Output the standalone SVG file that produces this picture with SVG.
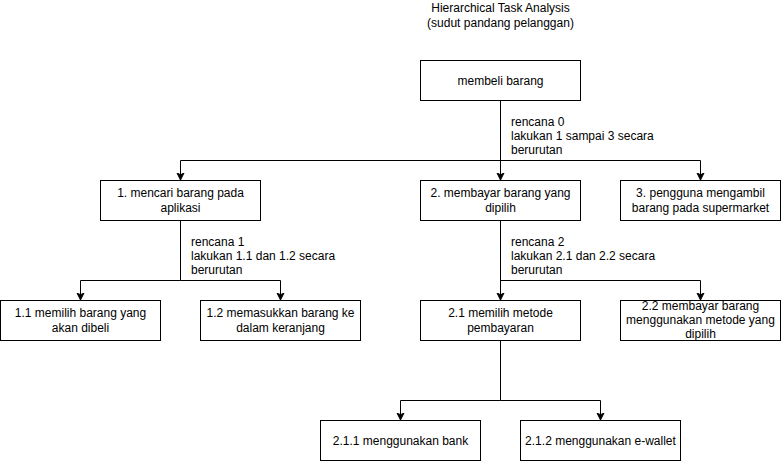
<svg xmlns="http://www.w3.org/2000/svg" width="781" height="461" viewBox="0 0 781 461">
<style>
  .box { fill: #ffffff; stroke: #000000; stroke-width: 1; }
  .t { font-family: "Liberation Sans", Arial, Helvetica, sans-serif; font-size: 12px; fill: #000000; }
  .c { text-anchor: middle; }
  .edge { fill: none; stroke: #000000; stroke-width: 1; marker-end: url(#arr); }
</style>
<defs>
  <marker id="arr" markerWidth="10" markerHeight="10" refX="7" refY="4" orient="auto" markerUnits="userSpaceOnUse">
    <path d="M0,0.5 L7,4 L0,7.5 L1.75,4 Z" fill="#000000" stroke="#000000" stroke-width="1"/>
  </marker>
</defs>
<rect width="781" height="461" fill="#ffffff"/>

<g id="title">
  <text class="t c" x="500.5" y="12">Hierarchical Task Analysis</text>
  <text class="t c" x="500.5" y="26.5">(sudut pandang pelanggan)</text>
</g>

<g id="connectors">
  <path class="edge" d="M500.5,100.5 V180"/>
  <path class="edge" d="M500.5,160.5 H180.5 V180"/>
  <path class="edge" d="M500.5,160.5 H700.5 V180"/>
  <path class="edge" d="M180.5,220.5 V280.5 H80.5 V300"/>
  <path class="edge" d="M180.5,280.5 H280.5 V300"/>
  <path class="edge" d="M500.5,220.5 V300"/>
  <path class="edge" d="M500.5,280.5 H700.5 V300"/>
  <path class="edge" d="M500.5,340.5 V400.5 H400.5 V420"/>
  <path class="edge" d="M500.5,400.5 H600.5 V420"/>
</g>

<g id="label-rencana0">
  <text class="t" x="511" y="126">rencana 0</text>
  <text class="t" x="511" y="140">lakukan 1 sampai 3 secara</text>
  <text class="t" x="511" y="154">berurutan</text>
</g>
<g id="label-rencana1">
  <text class="t" x="191" y="246">rencana 1</text>
  <text class="t" x="191" y="260">lakukan 1.1 dan 1.2 secara</text>
  <text class="t" x="191" y="274">berurutan</text>
</g>
<g id="label-rencana2">
  <text class="t" x="511" y="246">rencana 2</text>
  <text class="t" x="511" y="260">lakukan 2.1 dan 2.2 secara</text>
  <text class="t" x="511" y="274">berurutan</text>
</g>

<g id="node-0">
  <rect class="box" x="420.5" y="60.5" width="160" height="40"/>
  <text class="t c" x="500.5" y="84.5">membeli barang</text>
</g>
<g id="node-1">
  <rect class="box" x="100.5" y="180.5" width="160" height="40"/>
  <text class="t c" x="180.5" y="197">1. mencari barang pada</text>
  <text class="t c" x="180.5" y="211.5">aplikasi</text>
</g>
<g id="node-2">
  <rect class="box" x="420.5" y="180.5" width="160" height="40"/>
  <text class="t c" x="500.5" y="197">2. membayar barang yang</text>
  <text class="t c" x="500.5" y="211.5">dipilih</text>
</g>
<g id="node-3">
  <rect class="box" x="620.5" y="180.5" width="160" height="40"/>
  <text class="t c" x="700.5" y="197">3. pengguna mengambil</text>
  <text class="t c" x="700.5" y="211.5">barang pada supermarket</text>
</g>
<g id="node-1-1">
  <rect class="box" x="0.5" y="300.5" width="160" height="40"/>
  <text class="t c" x="80.5" y="317">1.1 memilih barang yang</text>
  <text class="t c" x="80.5" y="331.5">akan dibeli</text>
</g>
<g id="node-1-2">
  <rect class="box" x="200.5" y="300.5" width="160" height="40"/>
  <text class="t c" x="280.5" y="317">1.2 memasukkan barang ke</text>
  <text class="t c" x="280.5" y="331.5">dalam keranjang</text>
</g>
<g id="node-2-1">
  <rect class="box" x="420.5" y="300.5" width="160" height="40"/>
  <text class="t c" x="500.5" y="317">2.1 memilih metode</text>
  <text class="t c" x="500.5" y="331.5">pembayaran</text>
</g>
<g id="node-2-2">
  <rect class="box" x="620.5" y="300.5" width="160" height="40"/>
  <text class="t c" x="700.5" y="309.5">2.2 membayar barang</text>
  <text class="t c" x="700.5" y="323.5">menggunakan metode yang</text>
  <text class="t c" x="700.5" y="338">dipilih</text>
</g>
<g id="node-2-1-1">
  <rect class="box" x="320.5" y="420.5" width="160" height="40"/>
  <text class="t c" x="400.5" y="444.5">2.1.1 menggunakan bank</text>
</g>
<g id="node-2-1-2">
  <rect class="box" x="520.5" y="420.5" width="160" height="40"/>
  <text class="t c" x="600.5" y="444.5">2.1.2 menggunakan e-wallet</text>
</g>
</svg>
